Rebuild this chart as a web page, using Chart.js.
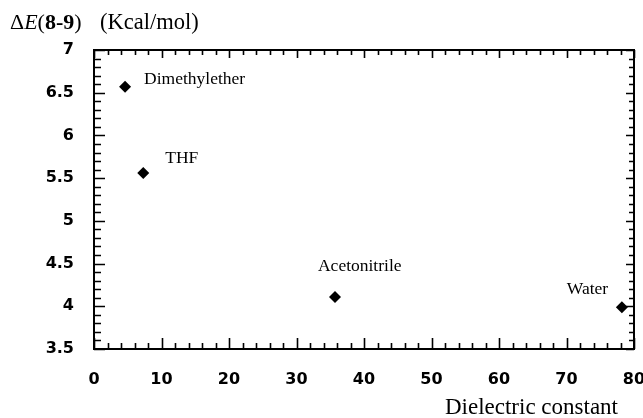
<!DOCTYPE html>
<html>
<head>
<meta charset="utf-8">
<script src="https://cdn.jsdelivr.net/npm/chart.js@4"></script>
<style>
  html, body { margin: 0; padding: 0; background: #fff; }
  #wrap { width: 643px; height: 418px; }
</style>
</head>
<body>
<div id="wrap"><canvas id="myChart" width="643" height="418"></canvas></div>
<script>
// data
const solvents = ["Dimethylether", "THF", "Acetonitrile", "Water"];
const dielectric = [4.6, 7.3, 35.7, 78.2];
const deltaE = [6.57, 5.56, 4.11, 3.99];
// label offsets (px) relative to each point, text baseline
const labelDx = [19, 22, -17, -55];
const labelDy = [-3, -10, -26, -13];

const xTicks = [0, 10, 20, 30, 40, 50, 60, 70, 80];
const yTicks = [3.5, 4, 4.5, 5, 5.5, 6, 6.5, 7];

const points = dielectric.map((x, i) => ({ x: x, y: deltaE[i] }));

const serif = "'Liberation Serif', 'Times New Roman', serif";
const tickFont = { family: "'DejaVu Sans', sans-serif", size: 16, weight: "bold" };

// box with inward major/minor ticks on all four sides + text labels
const frame = {
  id: "frame",
  afterDraw(chart) {
    const c = chart.ctx;
    const xs = chart.scales.x;
    const ys = chart.scales.y;
    const L = xs.getPixelForValue(0);
    const R = xs.getPixelForValue(80);
    const T = ys.getPixelForValue(7);
    const B = ys.getPixelForValue(3.5);
    c.save();
    c.strokeStyle = "#000";
    c.lineWidth = 2;
    c.strokeRect(L, T, R - L, B - T);
    c.lineWidth = 1.6;
    c.beginPath();
    for (let v = 0; v <= 80; v += 2) {
      const px = Math.round(xs.getPixelForValue(v)) + 0.5;
      const major = v % 10 === 0;
      c.moveTo(px, B);
      c.lineTo(px, B - (major ? 11 : 6));
      c.moveTo(px, T);
      c.lineTo(px, T + (major ? 8 : 5));
    }
    for (let k = 35; k <= 70; k++) {
      const py = Math.round(ys.getPixelForValue(k / 10)) + 0.5;
      const major = k % 5 === 0;
      c.moveTo(L, py);
      c.lineTo(L + (major ? 11 : 7), py);
      c.moveTo(R, py);
      c.lineTo(R - (major ? 8 : 5), py);
    }
    c.stroke();

    // point labels
    c.fillStyle = "#000";
    c.font = "17.5px " + serif;
    c.textBaseline = "alphabetic";
    c.textAlign = "left";
    solvents.forEach((name, i) => {
      const px = xs.getPixelForValue(dielectric[i]);
      const py = ys.getPixelForValue(deltaE[i]);
      c.fillText(name, px + labelDx[i], py + labelDy[i]);
    });

    // y axis title: ΔE(8-9)   (Kcal/mol)
    let x = 10;
    const ty = 29;
    const part = (txt, font) => {
      c.font = font;
      c.fillText(txt, x, ty);
      x += c.measureText(txt).width;
    };
    part("\u0394", "22px " + serif);
    part("E", "italic 22px " + serif);
    part("(", "22px " + serif);
    part("8-9", "bold 22px " + serif);
    part(")", "22px " + serif);
    c.font = "22.5px " + serif;
    c.fillText("(Kcal/mol)", 100, ty);

    // x axis title
    c.font = "23px " + serif;
    c.textAlign = "right";
    c.fillText("Dielectric constant", 618, 414);
    c.restore();
  }
};

const ctx = document.getElementById("myChart").getContext("2d");
new Chart(ctx, {
  type: "scatter",
  data: {
    datasets: [
      {
        label: "ΔE(8-9)",
        data: points,
        pointStyle: "rectRot",
        pointRadius: 6,
        backgroundColor: "#000",
        borderColor: "#000",
        borderWidth: 0,
      },
    ],
  },
  options: {
    responsive: false,
    animation: false,
    layout: { padding: { top: 50, right: 9, left: 0, bottom: 0 } },
    plugins: {
      legend: { display: false },
      tooltip: { enabled: false },
    },
    scales: {
      x: {
        type: "linear",
        min: 0,
        max: 80,
        afterBuildTicks: (s) => { s.ticks = xTicks.map((v) => ({ value: v })); },
        afterFit: (s) => { s.height = 69; s.paddingLeft = 0; s.paddingRight = 0; },
        grid: { display: false, drawTicks: false },
        border: { display: false },
        ticks: {
          padding: 21,
          color: "#000",
          maxRotation: 0,
          font: tickFont,
        },
      },
      y: {
        type: "linear",
        min: 3.5,
        max: 7,
        afterBuildTicks: (s) => { s.ticks = yTicks.map((v) => ({ value: v })); },
        afterFit: (s) => { s.width = 94; s.paddingTop = 0; s.paddingBottom = 0; },
        grid: { display: false, drawTicks: false },
        border: { display: false },
        ticks: {
          padding: 20,
          color: "#000",
          callback: (v) => String(v),
          font: tickFont,
        },
      },
    },
  },
  plugins: [frame],
});
</script>
</body>
</html>
